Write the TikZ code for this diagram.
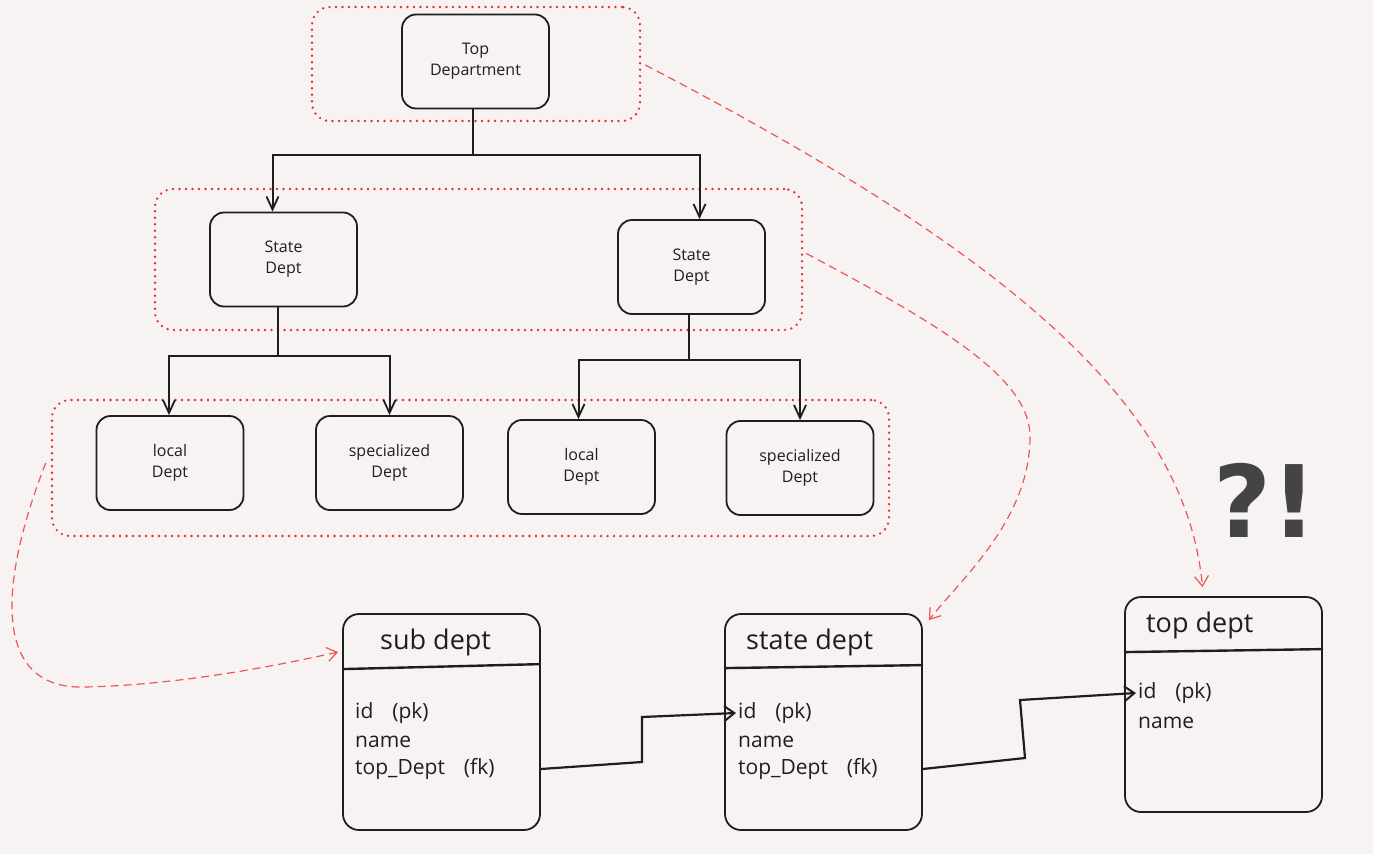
\documentclass[tikz,border=0pt]{standalone}
\usepackage{fontspec}
\setmainfont{Open Sans}
\newfontfamily\bigfont{DejaVu Sans}
\usetikzlibrary{arrows.meta,calc}
\definecolor{bg}{HTML}{F8F3F3}
\definecolor{ink}{HTML}{1E1E1E}
\definecolor{redd}{HTML}{E03131}
\definecolor{redl}{HTML}{EE5555}
\definecolor{qmark}{HTML}{444444}
\tikzset{
  box/.style={draw=ink, line width=1.8pt, rounded corners=14pt, minimum width=147pt, minimum height=94pt,
    align=center, inner sep=0pt, font=\fontsize{16}{21}\selectfont, text=ink},
  group/.style={draw=redd, line width=2.6pt, line cap=round, dash pattern=on 0pt off 6.5pt, rounded corners=18pt, inner sep=0pt},
  tbl/.style={draw=ink, line width=1.8pt, rounded corners=16pt, minimum width=197pt, inner sep=0pt},
  hdr/.style={draw=ink, line width=2.4pt},
  ttl/.style={anchor=west, inner sep=0pt, font=\fontsize{27}{30}\selectfont, text=ink},
  fld/.style={anchor=west, inner sep=2pt, font=\fontsize{21}{24}\selectfont, text=ink},
  tree/.style={draw=ink, line width=2pt, -{Straight Barb[length=13pt,width=12pt,line width=1.8pt]}},
  rel/.style={draw=ink, line width=2.2pt, -{Straight Barb[length=10pt,width=15pt,line width=2pt]}},
  link/.style={draw=redl, line width=1.2pt, dash pattern=on 8pt off 5pt, -{Straight Barb[length=10pt,width=14pt,line width=1.2pt]}}
}
\newcommand{\gap}{\hspace{19pt}}
\begin{document}
\begin{tikzpicture}[x=1pt,y=-1pt]
\path[use as bounding box, fill=bg] (0,0) rectangle (1373,854);

% groups
\node[group, minimum width=328pt, minimum height=114pt] (g1) at (476,64) {};
\node[group, minimum width=647pt, minimum height=141pt] (g2) at (478.5,259.5) {};
\node[group, minimum width=837pt, minimum height=136pt] (g3) at (470.5,468) {};

% tree boxes
\node[box] (top) at (475.5,61.5) {Top\\Department};
\node[box] (st1) at (283.5,259.5) {State\\Dept};
\node[box] (st2) at (691.5,267) {State\\Dept};
\node[box] (lo1) at (170,463) {local\\Dept};
\node[box] (sp1) at (389.5,463) {specialized\\Dept};
\node[box] (lo2) at (581.5,467) {local\\Dept};
\node[box] (sp2) at (800,468) {specialized\\Dept};

% tree connectors
\coordinate (j1) at (473,155);
\coordinate (j2) at (278,356);
\coordinate (j3) at (689,360);
\draw[tree] (top.south -| j1) -- (j1) -| ($(st1.north)+(-11,0)$);
\draw[tree] (j1) -| ($(st2.north)+(8,0)$);
\draw[tree] (st1.south -| j2) -- (j2) -| ($(lo1.north)+(-1,0)$);
\draw[tree] (j2) -| (sp1.north);
\draw[tree] (st2.south -| j3) -- (j3) -| ($(lo2.north)+(-3,0)$);
\draw[tree] (j3) -| (sp2.north);

% tables
\node[tbl, minimum height=216pt] (sub) at (441.5,722) {};
\node[tbl, minimum height=216pt] (state) at (823.5,722) {};
\node[tbl, minimum height=215pt] (topd) at (1223.5,704.5) {};
\draw[hdr] ($(sub.north west)+(0,56)$) -- ($(sub.north east)+(0,51)$);
\draw[hdr] ($(state.north west)+(0,55)$) -- ($(state.north east)+(0,52)$);
\draw[hdr] ($(topd.north west)+(0,56)$) -- ($(topd.north east)+(0,53)$);

\node[ttl] (subt) at (380,642) {sub dept};
\node[ttl] (statet) at (746,642) {state dept};
\node[ttl] (topt) at (1146,625) {top dept};

\node[fld] (subid) at (353,713) {id\gap(pk)};
\node[fld] (subname) at (353,742) {name};
\node[fld] (subfk) at (353,769) {top\_Dept\gap(fk)};
\node[fld] (stateid) at (736,713) {id\gap(pk)};
\node[fld] (statename) at (736,742) {name};
\node[fld] (statefk) at (736,769) {top\_Dept\gap(fk)};
\node[fld] (topid) at (1136,693) {id\gap(pk)};
\node[fld] (topname) at (1136,723) {name};

% relations
\coordinate (r1) at (642,762);
\coordinate (r2) at (642,717);
\draw[rel] (subfk -| sub.east) -- (r1) -- (r2) -- (stateid.west);
\coordinate (r3) at (1025,758);
\coordinate (r4) at (1020,700);
\draw[rel] (statefk -| state.east) -- (r3) -- (r4) -- (topid.west);

% dashed links
\coordinate (e1) at ($(topd.north)+(-21,-9)$);
\draw[link] ($(g1.east)+(4,1)$) .. controls (1000,250) and (1185,400) .. (e1);
\coordinate (e2) at ($(state.north east)+(6,7)$);
\draw[link] ($(g2.east)+(3,-6)$) .. controls (950,330) and (1030,380) .. (1030,437)
   .. controls (1030,520) and (960,580) .. (e2);
\coordinate (e3) at ($(sub.west)+(-4,-70)$);
\draw[link] ($(g3.west)+(-5,-5)$) .. controls (0,580) and (-10,690) .. (85,687)
   .. controls (180,685) and (280,665) .. (e3);

% exclamation
\node[font=\bigfont\bfseries\fontsize{100}{100}\selectfont, text=qmark, inner sep=0pt] (qm) at (1265,500) {?!};
\end{tikzpicture}
\end{document}
